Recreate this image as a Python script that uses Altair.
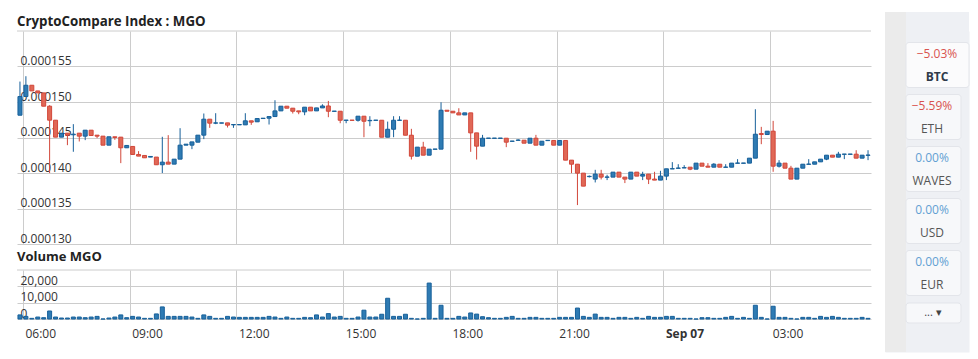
import altair as alt
import pandas as pd
from datetime import datetime, timedelta

# ---------------- data (prices in 1e-6 BTC, 10-minute candles) ----------------
opens = [148.14, 150.77, 152.36, 151.56, 151.28, 149.41, 147.44, 145.05, 145.61, 145.38,
         145.61, 145.19, 146.03, 145.33, 145.19, 143.92, 145.10, 145.05, 143.55, 143.74,
         142.61, 142.47, 142.24, 142.24, 141.16, 141.53, 141.25, 141.95, 143.92, 143.92,
         144.34, 145.33, 147.58, 147.02, 147.02, 147.06, 146.78, 146.78, 146.78, 147.35,
         147.21, 147.67, 147.72, 147.95, 148.75, 149.41, 149.13, 148.75, 148.61, 149.27,
         148.75, 149.17, 149.44, 148.68, 148.70, 147.41, 147.45, 147.43, 148.00, 147.36,
         147.41, 147.43, 145.04, 146.16, 147.41, 147.43, 145.32, 142.37, 143.64, 142.51,
         143.34, 143.36, 148.84, 148.70, 148.47, 148.18, 148.47, 145.65, 143.78, 144.88,
         144.88, 144.88, 144.90, 144.46, 144.60, 144.62, 144.20, 144.90, 143.92, 144.56,
         144.58, 143.92, 144.58, 141.81, 141.24, 139.98, 139.49, 139.14, 139.84, 139.40,
         139.42, 140.12, 139.42, 139.14, 140.12, 139.56, 139.84, 139.14, 139.00, 139.56,
         140.57, 140.66, 140.71, 140.82, 140.54, 141.39, 140.96, 140.82, 141.24, 140.80,
         140.82, 141.37, 141.37, 141.39, 142.09, 145.56, 145.42, 145.89, 140.96, 141.39,
         140.68, 139.14, 140.68, 141.22, 141.24, 141.57, 141.95, 142.51, 142.23, 142.63,
         142.63, 142.65, 142.09, 142.49]
highs = [152.88, 153.63, 152.36, 151.56, 151.28, 149.55, 147.44, 145.61, 145.61, 146.88,
         145.61, 146.03, 146.03, 145.33, 145.19, 145.10, 145.10, 145.05, 143.92, 143.74,
         143.08, 142.47, 142.38, 142.24, 145.10, 145.33, 141.95, 146.31, 144.06, 144.38,
         145.33, 148.38, 147.58, 148.42, 147.06, 147.06, 146.83, 146.83, 148.42, 147.35,
         147.67, 147.72, 147.95, 150.25, 149.41, 149.41, 149.13, 148.75, 149.27, 149.27,
         149.17, 149.68, 150.15, 148.72, 148.70, 147.45, 147.45, 148.00, 148.00, 148.00,
         147.45, 147.43, 147.24, 148.00, 148.00, 147.43, 146.22, 143.64, 144.39, 143.36,
         143.38, 149.96, 148.84, 148.70, 149.12, 148.47, 148.47, 145.65, 145.37, 144.92,
         144.92, 144.92, 144.90, 144.50, 144.76, 144.62, 144.90, 145.37, 144.48, 144.60,
         144.58, 144.58, 144.58, 141.81, 141.24, 139.98, 139.65, 140.45, 140.45, 139.75,
         140.12, 140.12, 139.42, 140.12, 140.12, 140.17, 139.84, 140.17, 140.31, 140.59,
         141.53, 141.24, 141.10, 140.82, 141.39, 141.39, 141.39, 141.39, 141.24, 141.24,
         141.39, 141.95, 141.41, 142.09, 148.98, 146.50, 145.89, 147.34, 141.81, 141.39,
         141.01, 140.68, 141.24, 141.95, 141.57, 141.95, 142.51, 142.51, 142.98, 142.67,
         142.67, 143.21, 142.51, 143.21]
lows = [148.14, 150.77, 151.56, 151.28, 149.41, 139.99, 145.05, 145.05, 143.92, 142.99,
        144.44, 144.63, 145.28, 144.91, 143.92, 143.92, 144.67, 141.39, 143.55, 142.61,
        142.38, 142.14, 142.24, 141.16, 139.99, 141.25, 141.25, 141.95, 143.92, 143.36,
        144.34, 144.77, 146.36, 146.88, 147.02, 146.41, 146.36, 146.78, 146.78, 146.78,
        147.21, 147.67, 146.83, 147.95, 148.75, 149.13, 148.38, 148.28, 148.14, 148.75,
        148.75, 149.17, 147.86, 148.68, 147.01, 147.01, 147.41, 147.24, 145.04, 146.59,
        147.41, 145.04, 145.04, 145.04, 147.41, 145.32, 141.90, 142.37, 142.51, 142.51,
        143.34, 143.36, 148.70, 148.47, 148.18, 148.18, 142.98, 141.90, 143.78, 144.88,
        144.88, 144.88, 143.64, 144.46, 144.60, 144.20, 144.20, 143.92, 143.92, 144.56,
        143.92, 143.92, 141.81, 139.98, 135.48, 138.15, 139.37, 138.67, 139.09, 139.00,
        139.42, 139.42, 138.58, 139.14, 139.56, 139.00, 138.44, 139.00, 139.00, 139.00,
        140.57, 140.66, 140.71, 140.40, 140.54, 140.96, 140.82, 140.82, 140.82, 140.80,
        140.82, 141.37, 141.37, 141.39, 142.09, 144.06, 145.42, 140.17, 140.77, 140.68,
        139.14, 139.14, 140.68, 141.22, 141.24, 141.57, 141.81, 142.23, 142.23, 141.95,
        142.63, 142.09, 142.09, 141.81]
closes = [150.77, 152.36, 151.56, 151.28, 149.41, 147.44, 145.05, 145.61, 145.33, 145.47,
          145.19, 146.03, 145.28, 145.19, 143.92, 145.10, 145.00, 143.55, 143.88, 142.61,
          142.38, 142.14, 142.33, 141.16, 141.53, 141.25, 141.95, 143.92, 144.06, 144.38,
          145.33, 147.58, 147.02, 147.06, 147.06, 146.74, 146.83, 146.83, 147.35, 147.16,
          147.67, 147.72, 147.95, 148.75, 149.41, 149.13, 148.70, 148.61, 149.27, 148.75,
          149.17, 149.44, 148.70, 148.72, 147.43, 147.45, 147.41, 148.00, 147.29, 147.41,
          147.45, 145.04, 146.16, 147.43, 147.45, 145.32, 142.37, 143.64, 142.51, 143.36,
          143.38, 148.84, 148.70, 148.47, 148.18, 148.47, 145.65, 143.78, 144.90, 144.92,
          144.92, 144.92, 144.34, 144.50, 144.64, 144.20, 144.90, 143.92, 144.48, 144.60,
          143.92, 144.58, 141.81, 141.24, 139.98, 138.15, 139.53, 139.84, 139.42, 139.44,
          140.12, 139.42, 139.14, 140.12, 139.56, 139.79, 139.14, 139.00, 139.56, 140.59,
          140.61, 140.70, 140.75, 140.54, 141.39, 140.96, 140.82, 141.24, 140.82, 140.84,
          141.39, 141.41, 141.41, 142.09, 145.46, 145.42, 145.89, 140.96, 141.39, 140.68,
          139.14, 140.68, 141.24, 141.26, 141.57, 141.95, 142.51, 142.23, 142.65, 142.67,
          142.67, 142.09, 142.51, 142.53]
volumes = [2500, 1600, 400, 1200, 800, 4900, 1200, 600, 600, 1200,
           1200, 800, 1200, 1600, 0, 600, 1200, 2500, 800, 1600,
           1200, 400, 400, 3100, 7400, 1600, 1600, 1600, 1600, 1200,
           400, 2500, 1600, 400, 400, 1600, 1200, 1000, 1000, 1000,
           1000, 1000, 1600, 1200, 400, 1200, 400, 400, 1000, 800,
           2500, 1200, 3300, 1200, 1600, 400, 400, 1200, 5400, 1200,
           1200, 2900, 12700, 1600, 1600, 2900, 400, 0, 400, 22000,
           400, 8400, 400, 400, 1600, 1200, 3700, 3000, 1400, 800,
           400, 400, 1000, 1600, 400, 400, 1000, 1000, 400, 400,
           400, 1000, 1000, 1000, 6700, 1600, 1000, 3000, 1000, 1000,
           400, 1000, 1000, 400, 1000, 400, 1600, 1000, 1000, 1600,
           1600, 400, 400, 400, 0, 800, 800, 400, 400, 1000,
           1600, 400, 1000, 400, 8400, 1000, 0, 7800, 1000, 1000,
           400, 0, 1000, 1000, 400, 1600, 1000, 1600, 1000, 400,
           400, 400, 1000, 400]

price_ticks = [130, 135, 140, 145, 150, 155]          # labelled gridlines, 1e-6 BTC
price_top = [160]                                     # unlabelled top gridline
volume_ticks = [0, 10000, 20000]
volume_top = [30000]
tick_hours = [6, 9, 12, 15, 18, 21, 0, 3]

currencies = ["BTC", "ETH", "WAVES", "USD", "EUR"]
changes = [-5.03, -5.59, 0.00, 0.00, 0.00]
selected = [True, False, False, False, False]

main_title = "CryptoCompare Index : MGO"
volume_title = "Volume MGO"

# ---------------- tables ----------------
n = len(opens)
start = datetime(2018, 9, 6, 5, 55)
times = [(start + timedelta(minutes=10 * i)).strftime("%Y-%m-%dT%H:%M:%SZ") for i in range(n)]
candles = pd.DataFrame({
    "t": times, "o": opens, "h": highs, "l": lows, "c": closes,
    "dir": ["up" if c >= o else "down" for o, c in zip(opens, closes)],
})
vol = pd.DataFrame({"t": times, "v": volumes})
side = pd.DataFrame({"name": currencies, "chg": changes, "sel": selected})
more = pd.DataFrame({"name": ["more"], "label": ["... \u25be"]})

BLUE_FILL, BLUE_LINE = "#2f7bb3", "#17609a"
RED_FILL, RED_LINE = "#e06856", "#d2473a"
GRID = "#cccccc"
FONT = "Open Sans"

dom = [alt.DateTime(year=2018, month=9, date=6, hours=5, minutes=50, utc=True),
       alt.DateTime(year=2018, month=9, date=7, hours=5, minutes=50, utc=True)]
tick_vals = [alt.DateTime(year=2018, month=9, date=6 if h >= 6 else 7, hours=h, utc=True)
             for h in tick_hours]
xscale = alt.Scale(type="utc", domain=dom, padding=0)

# ---------------- price chart ----------------
yscale = alt.Scale(domain=[130, 160], zero=False, nice=False, padding=0)
y_axis = alt.Axis(values=price_ticks,
                  labelExpr="format(datum.value / 1000000, '.6f')",
                  labelAlign="left", labelBaseline="alphabetic", labelPadding=-3,
                  labelOffset=-2, labelOverlap=False, ticks=False, tickSize=0, domain=False,
                  grid=True, title=None)
x_grid_axis = alt.Axis(values=tick_vals, labels=False, grid=True, ticks=False, tickSize=0,
                       domain=False, title=None)

dir_dom = ["up", "down"]
X_main = alt.X("t:T", scale=xscale, axis=x_grid_axis)
top_line = alt.Chart(pd.DataFrame({"v": price_top})).mark_rule(color=GRID, strokeWidth=1).encode(
    y=alt.Y("v:Q", scale=yscale, axis=y_axis))
wick = alt.Chart(candles).mark_rule(strokeWidth=1).encode(
    x=X_main,
    y=alt.Y("l:Q", scale=yscale, axis=y_axis),
    y2="h:Q",
    color=alt.Color("dir:N", scale=alt.Scale(domain=dir_dom, range=[BLUE_LINE, RED_LINE]), legend=None),
)
body = alt.Chart(candles).mark_bar(size=4, strokeWidth=1).encode(
    x=X_main,
    y=alt.Y("o:Q", scale=yscale, axis=y_axis),
    y2="c:Q",
    fill=alt.Fill("dir:N", scale=alt.Scale(domain=dir_dom, range=[BLUE_FILL, RED_FILL]), legend=None),
    stroke=alt.Stroke("dir:N", scale=alt.Scale(domain=dir_dom, range=[BLUE_LINE, RED_LINE]), legend=None),
)
price = alt.layer(top_line, wick, body).properties(
    width=854, height=213,
    title=alt.TitleParams(main_title, anchor="start", frame="group", offset=2, fontSize=13.3),
)

# ---------------- volume chart ----------------
x_axis = alt.Axis(values=tick_vals, grid=True, ticks=False, tickSize=0, domain=False, title=None,
                  labelExpr="utcFormat(datum.value, utchours(datum.value) == 0 ? '%b %d' : '%H:%M')",
                  labelFontWeight={"condition": {"test": "utchours(datum.value) == 0", "value": "bold"},
                                   "value": "normal"},
                  labelAlign="left", labelOffset=2, labelPadding=9, labelFlush=False,
                  labelOverlap=False)
vy_axis = alt.Axis(values=volume_ticks,
                   labelExpr="format(datum.value, ',')",
                   labelAlign="left", labelBaseline="alphabetic", labelPadding=-3,
                   labelOffset=-2, labelOverlap=False, ticks=False, tickSize=0, domain=False,
                   grid=True, title=None)
vscale = alt.Scale(domain=[0, 30000], nice=False, padding=0)
X_vol = alt.X("t:T", scale=xscale, axis=x_axis)
vol_top = alt.Chart(pd.DataFrame({"v": volume_top})).mark_rule(color=GRID, strokeWidth=1).encode(
    y=alt.Y("v:Q", scale=vscale, axis=vy_axis))
vol_bars = alt.Chart(vol).mark_bar(size=4, fill=BLUE_FILL, stroke=BLUE_LINE, strokeWidth=1).encode(
    x=X_vol,
    y=alt.Y("v:Q", scale=vscale, axis=vy_axis),
)
volume = alt.layer(vol_top, vol_bars).properties(
    width=854, height=49,
    title=alt.TitleParams(volume_title, anchor="start", frame="group", offset=6),
)

# ---------------- side panel ----------------
# the panel's view top lines up with the price plot top; background reaches up into the title row
slots = currencies + ["more"]
ys = alt.Scale(domain=slots, range=[8, 320], paddingInner=0, paddingOuter=0)
Y = alt.Y("name:N", scale=ys, axis=None)
PANEL_H = 321

bg = alt.Chart(pd.DataFrame({"a": [0]})).mark_rect(color="#eef0f4").encode(
    x=alt.value(0), x2=alt.value(84), y=alt.value(-19), y2=alt.value(PANEL_H))
strip = alt.Chart(pd.DataFrame({"a": [0]})).mark_rect(color="#ebebeb").encode(
    x=alt.value(0), x2=alt.value(21), y=alt.value(-19), y2=alt.value(PANEL_H))

btn_sel = alt.Chart(side).transform_filter("datum.sel").mark_bar(
    orient="horizontal", size=45, cornerRadius=3, fill="#fbfbfc", stroke="#e3e5ea", strokeWidth=1
).encode(y=Y, x=alt.value(21), x2=alt.value(84))
btn_oth = alt.Chart(side).transform_filter("!datum.sel").mark_bar(
    orient="horizontal", size=45, cornerRadius=3, fill="#f7f8fa", stroke="#e3e5ea", strokeWidth=1
).encode(y=Y, x=alt.value(21), x2=alt.value(76))
btn_more = alt.Chart(more).mark_bar(
    orient="horizontal", size=20, yOffset=-12, cornerRadius=3, fill="#f7f8fa", stroke="#e3e5ea", strokeWidth=1
).encode(y=Y, x=alt.value(21), x2=alt.value(76))

pct_color = alt.condition("datum.chg < 0", alt.value("#d9534f"), alt.value("#62a0d3"))
pct_sel = alt.Chart(side).transform_filter("datum.sel").transform_calculate(
    lbl="format(datum.chg, '.2f') + '%'"
).mark_text(font=FONT, fontSize=12, baseline="middle", align="center", yOffset=-11).encode(
    y=Y, x=alt.value(52), text="lbl:N", color=pct_color)
pct_oth = alt.Chart(side).transform_filter("!datum.sel").transform_calculate(
    lbl="format(datum.chg, '.2f') + '%'"
).mark_text(font=FONT, fontSize=12, baseline="middle", align="center", yOffset=-11).encode(
    y=Y, x=alt.value(47), text="lbl:N", color=pct_color)
name_sel = alt.Chart(side).transform_filter("datum.sel").mark_text(
    font=FONT, fontSize=12, fontWeight="bold", color="#2f3a4a", baseline="middle", align="center", yOffset=11.5
).encode(y=Y, x=alt.value(52), text="name:N")
name_oth = alt.Chart(side).transform_filter("!datum.sel").mark_text(
    font=FONT, fontSize=12, color="#555555", baseline="middle", align="center", yOffset=11.5
).encode(y=Y, x=alt.value(47), text="name:N")
more_txt = alt.Chart(more).mark_text(
    font=FONT, fontSize=11, color="#444444", baseline="middle", align="center", yOffset=-12
).encode(y=Y, x=alt.value(48), text="label:N")

panel = alt.layer(bg, strip, btn_sel, btn_oth, btn_more, pct_sel, pct_oth, name_sel, name_oth, more_txt).properties(
    width=84, height=PANEL_H,
    view=alt.ViewBackground(fill="#eef0f4", stroke="transparent"),
)

chart = alt.hconcat(alt.vconcat(price, volume, spacing=5), panel, spacing=12).configure(
    padding={"left": 8, "top": 3, "right": 0, "bottom": 0},
    background="white",
    font=FONT,
).configure_view(
    stroke="transparent",
).configure_axis(
    gridColor=GRID, gridWidth=1, labelFont=FONT, labelFontSize=12, labelColor="#333333",
).configure_title(
    font=FONT, fontSize=13, fontWeight="bold", color="#222222", anchor="start",
)

chart.save("out.html", embed_options={"renderer": "svg", "actions": False})
